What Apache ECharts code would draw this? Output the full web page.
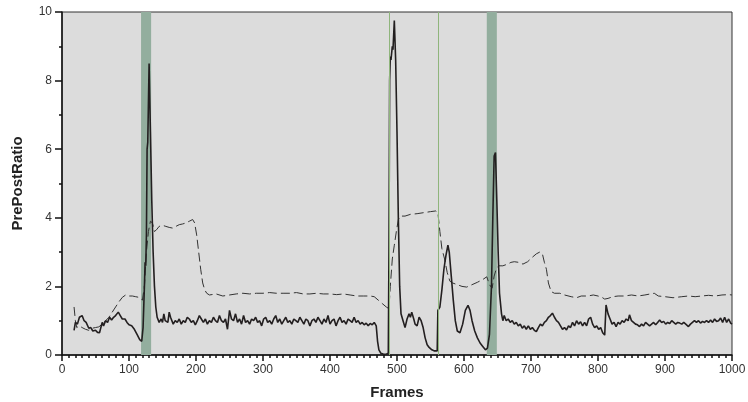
<!DOCTYPE html>
<html>
<head>
<meta charset="utf-8">
<script src="https://cdn.jsdelivr.net/npm/echarts@6/dist/echarts.min.js"></script>
<style>html,body{margin:0;padding:0;background:#fff}#c{width:748px;height:402px}</style>
</head>
<body>
<div id="c"></div>
<script>
var xTicks = [0,100,200,300,400,500,600,700,800,900,1000];
var yTicks = [0,2,4,6,8,10];
var shadedBands = [[118,133],[634,649]];
var markerFrames = [488.5,561.5];

var solidSeries = [[18,0.72],[20,0.95],[23,0.9],[26,1.1],[30,1.15],[33,1.0],[36,0.95],[40,0.78],[43,0.8],[46,0.7],[50,0.72],[53,0.66],[56,0.65],[58,0.7],[60,0.95],[62,0.85],[65,1.0],[68,0.95],[71,1.1],[74,1.02],[77,1.1],[80,1.15],[84,1.25],[87,1.15],[90,1.05],[94,1.05],[97,0.95],[100,0.88],[104,0.85],[108,0.75],[112,0.6],[116,0.45],[119,0.4],[121,0.8],[123,2.0],[124,2.7],[125,2.6],[126,3.5],[127,6.0],[128,6.2],[130,8.5],[132,6.5],[134,4.5],[136,3.0],[138,2.0],[140,1.4],[142,1.1],[145,0.95],[148,1.05],[150,0.95],[152,1.2],[154,1.0],[156,1.05],[158,0.95],[160,1.25],[162,1.1],[164,1.05],[166,0.9],[169,1.0],[172,0.95],[175,1.05],[178,0.9],[181,1.0],[184,0.95],[187,1.1],[190,1.05],[193,0.95],[196,1.0],[199,0.88],[202,1.0],[205,1.15],[208,1.05],[211,0.95],[214,1.05],[217,0.9],[220,1.0],[223,0.95],[226,1.1],[229,1.0],[232,0.95],[235,1.15],[238,1.0],[241,0.95],[244,1.05],[247,0.75],[250,1.3],[253,1.05],[256,1.0],[259,1.2],[262,0.95],[265,1.05],[268,0.9],[271,1.15],[274,0.95],[277,1.0],[280,0.9],[283,1.05],[286,1.0],[289,1.1],[292,0.95],[295,1.0],[298,0.85],[301,1.05],[304,1.1],[307,0.95],[310,1.0],[313,0.9],[316,1.05],[319,1.15],[322,0.95],[325,1.05],[328,0.9],[331,1.0],[334,1.1],[337,0.95],[340,1.0],[343,0.9],[346,1.05],[349,1.0],[352,0.95],[355,1.1],[358,1.0],[361,0.9],[364,1.05],[367,1.0],[370,0.85],[373,1.0],[376,1.05],[379,0.95],[382,1.1],[385,1.0],[388,0.9],[391,1.05],[394,0.95],[397,1.15],[400,0.9],[403,1.0],[406,1.05],[409,0.85],[412,1.0],[415,1.1],[418,0.95],[421,1.0],[424,0.9],[427,1.05],[430,1.0],[433,0.95],[436,1.1],[439,0.95],[442,1.0],[445,0.9],[448,0.95],[451,0.88],[454,0.93],[457,0.85],[460,0.92],[463,0.88],[466,0.95],[469,0.85],[471,0.4],[473,0.15],[476,0.05],[480,0.02],[484,0.02],[487,0.05],[488,3.0],[489,8.0],[490,8.7],[491,8.6],[493,9.0],[494,8.9],[496,9.75],[498,8.6],[500,6.5],[502,4.0],[504,2.0],[506,1.2],[509,1.0],[512,0.8],[515,1.05],[518,1.2],[520,1.1],[522,1.25],[525,1.05],[527,0.9],[530,0.85],[533,1.1],[536,1.0],[539,0.8],[542,0.5],[545,0.3],[548,0.22],[552,0.15],[556,0.12],[560,0.12],[561,1.3],[564,1.4],[567,1.9],[570,2.5],[573,2.9],[576,3.2],[578,3.0],[581,2.3],[584,1.6],[587,1.0],[590,0.7],[594,0.65],[598,0.9],[602,1.3],[606,1.45],[609,1.3],[612,1.0],[616,0.7],[620,0.5],[624,0.35],[628,0.25],[632,0.15],[635,0.2],[638,0.6],[641,2.0],[643,4.0],[645,5.8],[647,5.9],[649,4.5],[651,3.0],[653,1.8],[656,1.2],[658,1.0],[660,1.15],[663,1.0],[666,1.05],[669,0.95],[672,1.0],[675,0.9],[678,0.95],[681,0.85],[684,0.9],[687,0.78],[690,0.85],[693,0.75],[696,0.85],[699,0.75],[702,0.8],[705,0.72],[708,0.68],[711,0.8],[714,0.9],[717,0.85],[720,0.95],[723,1.0],[726,1.1],[729,1.15],[732,1.22],[735,1.1],[738,1.0],[741,0.95],[744,0.85],[747,0.75],[750,0.8],[753,0.73],[756,0.85],[759,0.8],[762,0.95],[765,0.85],[768,1.0],[771,0.9],[774,0.97],[777,0.85],[780,0.95],[783,0.85],[786,1.05],[789,1.1],[792,0.9],[795,0.8],[798,0.85],[801,0.75],[804,0.8],[807,0.65],[810,0.58],[812,1.46],[815,1.2],[818,1.05],[821,0.9],[824,0.95],[827,0.83],[830,0.95],[833,0.9],[836,1.0],[839,0.95],[842,1.05],[845,1.0],[847,1.17],[850,1.0],[853,0.95],[856,0.9],[859,0.88],[862,0.83],[865,0.9],[868,0.85],[871,0.95],[874,0.9],[877,0.85],[880,0.9],[883,0.95],[886,0.88],[889,0.95],[892,1.02],[895,0.95],[898,0.98],[901,0.9],[904,0.95],[907,0.92],[910,1.0],[913,0.95],[916,0.9],[919,0.95],[922,0.93],[925,0.9],[928,0.95],[931,0.9],[935,0.83],[938,0.9],[941,0.95],[944,1.0],[947,0.95],[950,1.0],[953,0.93],[956,0.98],[959,0.95],[962,1.0],[965,0.95],[968,1.02],[971,0.95],[974,1.05],[977,0.98],[980,1.0],[983,1.08],[986,0.95],[989,1.1],[992,0.95],[995,1.05],[998,0.93],[1000,0.9]];

var dashedSeries = [[18,1.4],[20,1.0],[22,0.8],[26,0.85],[30,0.8],[35,0.75],[40,0.72],[45,0.78],[50,0.8],[55,0.82],[60,0.9],[65,1.0],[70,1.1],[75,1.25],[80,1.4],[85,1.55],[90,1.68],[95,1.75],[100,1.72],[105,1.72],[110,1.7],[115,1.68],[120,1.6],[123,2.0],[126,3.0],[129,3.6],[132,3.9],[135,3.85],[138,3.6],[141,3.65],[145,3.75],[150,3.78],[155,3.75],[160,3.72],[165,3.7],[170,3.75],[175,3.8],[180,3.82],[185,3.85],[190,3.9],[195,3.95],[198,3.85],[201,3.5],[204,3.0],[207,2.5],[210,2.1],[213,1.9],[216,1.8],[220,1.75],[230,1.78],[240,1.72],[250,1.75],[260,1.78],[270,1.8],[280,1.78],[290,1.8],[300,1.8],[310,1.82],[320,1.8],[330,1.8],[340,1.8],[350,1.82],[360,1.78],[370,1.78],[380,1.8],[390,1.78],[400,1.78],[410,1.76],[420,1.78],[430,1.75],[440,1.72],[450,1.72],[460,1.72],[466,1.7],[472,1.6],[478,1.5],[484,1.4],[488,1.35],[490,2.0],[493,2.8],[496,3.2],[499,3.6],[502,3.95],[506,4.05],[512,4.05],[520,4.1],[530,4.12],[540,4.15],[550,4.18],[558,4.2],[561,4.15],[564,3.6],[567,3.1],[571,2.8],[575,2.4],[579,2.15],[583,2.1],[590,2.05],[597,2.0],[604,1.98],[612,2.05],[620,2.12],[628,2.2],[634,2.28],[638,2.05],[642,1.95],[645,2.3],[648,2.5],[652,2.6],[658,2.6],[665,2.65],[670,2.7],[675,2.72],[682,2.7],[688,2.65],[695,2.72],[702,2.85],[708,2.95],[713,3.0],[717,2.95],[720,2.7],[723,2.5],[726,2.1],[730,1.85],[735,1.8],[743,1.8],[750,1.75],[760,1.7],[768,1.67],[775,1.72],[785,1.72],[793,1.75],[800,1.72],[806,1.68],[810,1.63],[815,1.65],[822,1.7],[830,1.72],[840,1.72],[850,1.75],[860,1.72],[870,1.75],[878,1.78],[884,1.8],[890,1.72],[900,1.7],[912,1.67],[925,1.7],[935,1.72],[945,1.7],[955,1.72],[965,1.74],[975,1.72],[985,1.75],[995,1.76],[1000,1.75]];

var chart = echarts.init(document.getElementById('c'), null, {renderer:'canvas'});
var font = 'Liberation Sans, Arial, sans-serif';
chart.setOption({
  animation: false,
  backgroundColor: '#ffffff',
  grid: {left: 62, right: 16, top: 12, bottom: 47, outerBoundsMode: 'none', containLabel: false, show: true, backgroundColor: '#dcdcdc', borderColor: '#333', borderWidth: 1},
  xAxis: {
    type: 'value', min: 0, max: 1000, interval: 100,
    name: 'Frames', nameLocation: 'middle', nameGap: 30,
    nameTextStyle: {fontFamily: font, fontSize: 15, fontWeight: 'bold', color: '#222'},
    axisLine: {show: true, onZero: false, lineStyle: {color: '#111', width: 1.5}},
    axisTick: {show: true, inside: false, length: 6, lineStyle: {color: '#111', width: 1.5}},
    minorTick: {show: true, splitNumber: 10, length: 3, lineStyle: {color: '#111', width: 1.5}},
    axisLabel: {fontFamily: font, fontSize: 12, color: '#333', margin: 9,
      formatter: function(v){ return xTicks.indexOf(v) >= 0 ? String(v) : ''; }},
    splitLine: {show: false}
  },
  yAxis: {
    type: 'value', min: 0, max: 10, interval: 2,
    name: 'PrePostRatio', nameLocation: 'middle', nameGap: 37,
    nameTextStyle: {fontFamily: font, fontSize: 15, fontWeight: 'bold', color: '#222'},
    axisLine: {show: true, onZero: false, lineStyle: {color: '#111', width: 1.5}},
    axisTick: {show: true, inside: false, length: 7, lineStyle: {color: '#111', width: 1.5}},
    minorTick: {show: true, splitNumber: 2, length: 3, lineStyle: {color: '#111', width: 1.5}},
    axisLabel: {fontFamily: font, fontSize: 12, color: '#333', margin: 10,
      formatter: function(v){ return yTicks.indexOf(v) >= 0 ? String(v) : ''; }},
    splitLine: {show: false}
  },
  series: [
    {
      type: 'line', data: dashedSeries, showSymbol: false, symbol: 'none', silent: true,
      lineStyle: {color: '#333', width: 1, type: [9, 4]},
      z: 3,
      markArea: {
        silent: true,
        itemStyle: {color: '#93ae9e', opacity: 1},
        data: shadedBands.map(function(b){ return [{xAxis: b[0]}, {xAxis: b[1]}]; })
      },
      markLine: {
        silent: true, symbol: 'none', label: {show: false},
        lineStyle: {color: '#8fb57c', width: 1, type: 'solid'},
        data: markerFrames.map(function(f){ return {xAxis: f}; })
      }
    },
    {
      type: 'line', data: solidSeries, showSymbol: false, symbol: 'none', silent: true,
      lineStyle: {color: '#231f20', width: 1.6},
      z: 4
    }
  ]
});
</script>
</body>
</html>
